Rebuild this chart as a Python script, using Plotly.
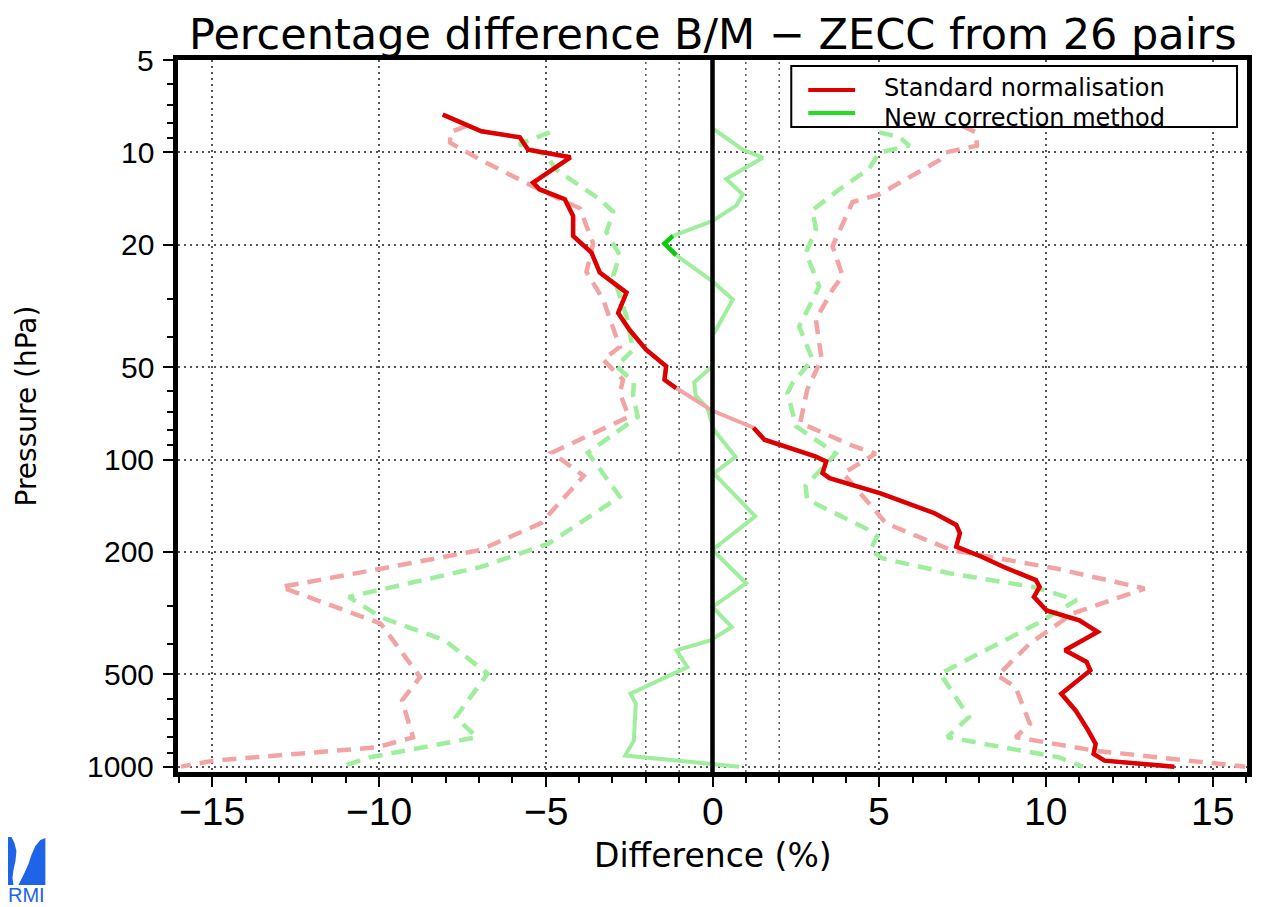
import numpy as np
import plotly.graph_objects as go

# ---------------- data ----------------
# Mean difference, standard normalisation (pressure hPa, difference %)
red_mean_p = [7.53, 8.53, 8.93, 9.80, 10.37, 12.53, 13.2, 14.2, 16.1, 18.7, 21.2, 24.6, 28.6,
              33.3, 37.8, 43.9, 49.7, 55.0, 58.5, 69.4, 78.8, 84.1, 86.2, 97.7, 101.5, 110.7,
              115, 128.8, 149.6, 163.3, 173.8, 192.2, 207.3, 223.5, 247, 260, 280, 310, 334,
              364, 418, 456, 486, 579, 656, 763, 843, 909, 956, 1000]
red_mean_v = [-8.09, -6.93, -5.78, -5.53, -4.26, -5.38, -5.18, -4.43, -4.18, -4.18, -3.63, -3.38,
              -2.58, -2.83, -2.49, -1.99, -1.39, -1.44, -1.09, 0.0, 1.23, 1.46, 1.56, 3.08, 3.41,
              3.30, 3.51, 5.04, 6.66, 7.31, 7.42, 7.31, 8.07, 8.72, 9.70, 9.81, 9.64, 10.02,
              11.0, 11.55, 10.57, 11.22, 11.33, 10.46, 10.89, 11.27, 11.49, 11.43, 11.76, 13.85]
# 1 = significant (drawn in full colour), 0 = not significant (pale)
red_signif = [1] * 19 + [0] + [1] * 30

# Mean difference, new correction method
green_mean_p = [8.28, 9.8, 10.4, 12.2, 13.7, 14.9, 16.7, 18.7, 19.8, 21.6, 26.3, 30.1, 39.6,
                49.7, 56.0, 62.0, 68.0, 80.0, 98.0, 111.0, 153.0, 197.0, 253.0, 302.0, 351.0,
                388.0, 418.0, 474.0, 579.0, 623.0, 823.0, 920.0, 1000.0]
green_mean_v = [-0.04, 0.91, 1.51, 0.41, 0.91, 0.71, 0.0, -1.19, -1.44, -1.09, 0.0, 0.61, 0.0,
                0.0, -0.55, -0.5, -0.15, 0.04, 0.69, 0.04, 1.28, 0.0, 1.01, 0.0, 0.58,
                -0.07, -1.08, -0.75, -2.46, -2.30, -2.36, -2.62, 0.8]
green_signif = [0] * 7 + [1, 1, 1] + [0] * 23

# Spread envelopes (dashed), standard normalisation
red_lo_p = [8.2, 8.6, 9.3, 10.6, 12.9, 15.2, 19.8, 24.5, 30.1, 43.0, 47.3, 55.0, 60.6, 72.6,
            95, 113, 161, 197, 229, 260, 342, 511, 609, 803, 865, 956, 1000]
red_lo_v = [-7.37, -7.87, -7.87, -6.93, -5.38, -3.98, -3.58, -3.78, -3.28, -2.78, -3.28, -2.68,
            -2.78, -2.51, -4.82, -3.86, -5.14, -6.96, -10.16, -12.94, -9.95, -8.77, -9.31,
            -8.98, -10.06, -14.97, -15.94]
red_hi_p = [8.2, 8.6, 9.5, 10.0, 10.6, 13.7, 14.5, 17.0, 20.2, 25.2, 28.0, 35, 47, 59.3, 76,
            90.5, 95.6, 111, 146, 161.5, 197, 226, 263, 317, 397, 505, 551, 726, 802, 887, 1000]
red_hi_v = [7.49, 7.9, 7.93, 7.0, 6.8, 5.0, 4.2, 3.9, 3.6, 3.9, 3.6, 3.1, 3.27, 2.84, 2.63,
            4.24, 4.89, 3.92, 4.89, 5.21, 7.15, 10.27, 12.96, 10.81, 9.52, 8.55, 9.09, 9.52,
            9.09, 11.46, 15.98]

# Spread envelopes (dashed), new correction method
green_lo_p = [8.6, 9.4, 10.2, 11.4, 14.2, 15.6, 18.2, 21.6, 25.2, 34.2, 43.9, 49.7, 56, 62,
              72.6, 95, 132, 188, 224, 280, 326, 388, 498, 690, 802, 932, 1000]
green_lo_v = [-4.88, -5.8, -5.0, -4.68, -3.38, -2.98, -3.18, -2.78, -2.98, -2.58, -2.38, -2.88,
              -2.36, -2.38, -2.24, -3.74, -2.78, -4.92, -6.96, -10.91, -9.95, -8.03, -6.74,
              -7.7, -7.07, -10.27, -11.13]
green_hi_p = [8.6, 8.9, 9.5, 10.0, 11.3, 13.2, 15.4, 17.8, 21.2, 27.3, 36.9, 47.3, 56.3, 60.7,
              78, 95.6, 122, 135, 169, 178, 197, 210, 235, 260, 287, 342, 498, 690, 802, 932, 1000]
green_hi_v = [5.0, 5.6, 5.9, 5.0, 4.7, 3.8, 3.0, 3.1, 2.8, 3.2, 2.6, 3.0, 2.4, 2.25, 2.51, 3.7,
              2.79, 2.84, 4.67, 4.94, 4.73, 5.1, 7.15, 9.63, 10.92, 9.74, 6.83, 7.69, 7.04,
              10.38, 11.1]

x_ticks = [-15, -10, -5, 0, 5, 10, 15]
x_grid_extra = [-2, -1, 1, 2]
y_ticks = [5, 10, 20, 50, 100, 200, 500, 1000]
y_minor = [6, 7, 8, 9, 30, 40, 60, 70, 80, 90, 300, 400, 600, 700, 800, 900]

title_text = "Percentage difference B/M \u2212 ZECC from 26 pairs"
xlabel = "Difference (%)"
ylabel = "Pressure (hPa)"
legend_labels = ["Standard normalisation", "New correction method"]

# ---------------- layout geometry (page pixels; page has an 8px body margin) ----------------
OFF = 8
W, H = 1264 - OFF, 907 - OFF
PL, PR, PT, PB = 178, 1250, 60, 772          # plot area in page pixels
ML, MT = PL - OFF, PT - OFF
MR, MB = W - (PR - OFF), H - (PB - OFF)
PW, PH = PR - PL, PB - PT

RED = "#dc0000"
RED_PALE = "#f2a4a4"
GREEN = "#0acb0a"
GREEN_LEG = "#22dd22"
GREEN_PALE = "#9eee9e"
DASH = "14px,9px"
GRIDC = "#555555"
GRID_DASH = "2px,4px"


def px(x):
    return (x - PL) / PW


def py(y):
    return (PB - y) / PH


fig = go.Figure()


def add_line(x, y, color, width, dash="solid"):
    fig.add_trace(go.Scatter(x=x, y=y, mode="lines",
                             line=dict(color=color, width=width, dash=dash),
                             showlegend=False, hoverinfo="skip", connectgaps=False))


def significant_part(p, v, flags):
    xs, ys = [], []
    for i in range(len(p) - 1):
        if flags[i] and flags[i + 1]:
            if not xs or xs[-1] is None or ys[-1] != p[i]:
                if xs and xs[-1] is not None:
                    xs.append(None)
                    ys.append(None)
                xs.append(v[i])
                ys.append(p[i])
            xs.append(v[i + 1])
            ys.append(p[i + 1])
    return xs, ys


# dashed spread envelopes
add_line(red_lo_v, red_lo_p, RED_PALE, 4.5, DASH)
add_line(red_hi_v, red_hi_p, RED_PALE, 4.5, DASH)
add_line(green_lo_v, green_lo_p, GREEN_PALE, 4.5, DASH)
add_line(green_hi_v, green_hi_p, GREEN_PALE, 4.5, DASH)

# mean lines: pale everywhere, full colour where significant
add_line(green_mean_v, green_mean_p, GREEN_PALE, 4)
add_line(red_mean_v, red_mean_p, RED_PALE, 4)
rx, ry = significant_part(red_mean_p, red_mean_v, red_signif)
add_line(rx, ry, RED, 4.5)
gx, gy = significant_part(green_mean_p, green_mean_v, green_signif)
add_line(gx, gy, GREEN, 4.5)

shapes = []
for g in x_grid_extra:
    shapes.append(dict(type="line", xref="x", yref="paper", x0=g, x1=g, y0=0, y1=1,
                       line=dict(color=GRIDC, width=1.5, dash=GRID_DASH), layer="below"))
shapes.append(dict(type="line", xref="x", yref="paper", x0=0, x1=0, y0=0, y1=1,
                   line=dict(color="black", width=4.5), layer="above"))

# legend box
shapes.append(dict(type="rect", xref="paper", yref="paper", x0=px(793), x1=px(1240),
                   y0=py(127), y1=py(66), line=dict(color="black", width=2),
                   fillcolor="white", layer="above"))
shapes.append(dict(type="line", xref="paper", yref="paper", x0=px(810), x1=px(857),
                   y0=py(90), y1=py(90), line=dict(color=RED, width=4), layer="above"))
shapes.append(dict(type="line", xref="paper", yref="paper", x0=px(810), x1=px(857),
                   y0=py(113), y1=py(113), line=dict(color=GREEN_LEG, width=4), layer="above"))

# RMI logo (decoration)
BLUE = "#1f63e6"


def path_px(pts):
    return "M " + " L ".join(f"{px(a):.5f},{py(b):.5f}" for a, b in pts) + " Z"


logo_left = [(0, 837), (11, 837), (14, 843), (16, 851), (15, 861), (13, 870), (12, 878),
             (13, 885), (0, 885)]
logo_right = [(45, 838), (40, 840), (35, 846), (31, 855), (28, 864), (24, 873), (18, 885),
              (45, 885)]
for pts in (logo_left, logo_right):
    shapes.append(dict(type="path", xref="paper", yref="paper", path=path_px(pts),
                       fillcolor=BLUE, line=dict(width=0), layer="above"))

LEG_SPLIT = 102.5  # page y where the two legend text lines meet
annotations = [
    dict(text=title_text, x=px(714), y=py(34), xref="paper", yref="paper",
         showarrow=False, xanchor="center", yanchor="middle",
         font=dict(family="DejaVu Sans", size=43, color="black")),
    dict(text=xlabel, x=px(714), y=py(855), xref="paper", yref="paper",
         showarrow=False, xanchor="center", yanchor="middle",
         font=dict(family="DejaVu Sans", size=33, color="black")),
    dict(text=ylabel, x=px(26), y=py(406), xref="paper", yref="paper", textangle=-90,
         showarrow=False, xanchor="center", yanchor="middle",
         font=dict(family="DejaVu Sans", size=28, color="black")),
    dict(text=legend_labels[0], x=px(885), y=py(LEG_SPLIT), xref="paper", yref="paper",
         showarrow=False, xanchor="left", yanchor="bottom", borderpad=0,
         font=dict(family="DejaVu Sans", size=24, color="black")),
    dict(text=legend_labels[1], x=px(885), y=py(LEG_SPLIT), xref="paper", yref="paper",
         showarrow=False, xanchor="left", yanchor="top", borderpad=0,
         font=dict(family="DejaVu Sans", size=24, color="black")),
    dict(text="RMI", x=px(47), y=py(895), xref="paper", yref="paper",
         showarrow=False, xanchor="right", yanchor="middle",
         font=dict(family="Liberation Sans", size=20, color=BLUE)),
]

# tick labels placed on the axes' own coordinates
for t in x_ticks:
    lab = ("\u2212" + str(abs(t))) if t < 0 else str(t)
    annotations.append(dict(text=lab, x=t, xref="x", y=py(812), yref="paper",
                            showarrow=False, xanchor="center", yanchor="middle",
                            font=dict(family="Liberation Sans", size=39, color="black")))
for t in y_ticks:
    annotations.append(dict(text=str(t), x=px(156), xref="paper", y=np.log10(t), yref="y",
                            showarrow=False, xanchor="right", yanchor="middle",
                            font=dict(family="Liberation Sans", size=30, color="black")))

fig.update_layout(
    width=W, height=H,
    margin=dict(l=ML, r=MR, t=MT, b=MB, pad=0),
    paper_bgcolor="white", plot_bgcolor="white",
    showlegend=False,
    shapes=shapes,
    annotations=annotations,
)

fig.update_xaxes(
    range=[-16.03, 16.03], tickmode="array", tickvals=x_ticks, showticklabels=False,
    showgrid=True, gridcolor=GRIDC, gridwidth=1.5, griddash=GRID_DASH,
    zeroline=False, showline=True, linecolor="black", linewidth=5, mirror=True,
    ticks="outside", ticklen=10, tickwidth=2, tickcolor="black",
    minor=dict(tickmode="linear", dtick=1, tick0=0, ticks="outside", ticklen=6,
               tickwidth=2, tickcolor="black", showgrid=False),
)

fig.update_yaxes(
    type="log", range=[np.log10(1041), np.log10(5)],
    tickmode="array", tickvals=y_ticks, showticklabels=False,
    showgrid=True, gridcolor=GRIDC, gridwidth=1.5, griddash=GRID_DASH,
    zeroline=False, showline=True, linecolor="black", linewidth=5, mirror=True,
    ticks="outside", ticklen=10, tickwidth=2, tickcolor="black",
    minor=dict(tickmode="array", tickvals=y_minor, ticks="outside", ticklen=6,
               tickwidth=2, tickcolor="black", showgrid=False),
)

fig.write_html("out.html")
